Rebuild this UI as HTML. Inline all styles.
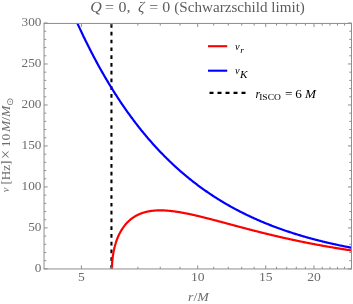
<!DOCTYPE html><html><head><meta charset="utf-8"><style>html,body{margin:0;padding:0;background:#fff;overflow:hidden}svg{display:block;will-change:transform}text{font-family:"Liberation Serif",serif}</style></head><body>
<svg width="353" height="304" viewBox="0 0 353 304">
<rect width="353" height="304" fill="#fff"/>
<defs><clipPath id="c"><rect x="44.05" y="23.05" width="307.95" height="245.90"/></clipPath></defs>
<g clip-path="url(#c)" fill="none" stroke-linejoin="round">
<line x1="111.45" y1="24.10" x2="111.45" y2="268.90" stroke="#000" stroke-width="2.1" stroke-dasharray="3.7 4.074"/>
<path d="M75.56 19.26 L76.25 20.81 L76.95 22.34 L77.64 23.86 L78.33 25.38 L79.03 26.88 L79.72 28.37 L80.41 29.86 L81.11 31.34 L81.80 32.80 L82.49 34.26 L83.18 35.71 L83.88 37.15 L84.57 38.58 L85.26 40.01 L85.96 41.42 L86.65 42.83 L87.34 44.22 L88.04 45.61 L88.73 46.99 L89.42 48.36 L90.11 49.72 L90.81 51.08 L91.50 52.42 L92.19 53.76 L92.89 55.09 L93.58 56.41 L94.27 57.72 L94.97 59.03 L95.66 60.32 L96.35 61.61 L97.04 62.89 L97.74 64.16 L98.43 65.43 L99.12 66.68 L99.82 67.93 L100.51 69.17 L101.20 70.41 L101.90 71.63 L102.59 72.85 L103.28 74.06 L103.97 75.27 L104.67 76.46 L105.36 77.65 L106.05 78.83 L106.75 80.01 L107.44 81.17 L108.13 82.33 L108.83 83.49 L109.52 84.63 L110.21 85.77 L110.90 86.90 L111.60 88.03 L112.29 89.14 L112.98 90.25 L113.68 91.36 L114.37 92.45 L115.06 93.54 L115.76 94.63 L116.45 95.70 L117.14 96.77 L117.83 97.84 L118.53 98.89 L119.22 99.94 L119.91 100.99 L120.61 102.02 L121.30 103.05 L121.99 104.08 L122.69 105.10 L123.38 106.11 L124.07 107.11 L124.76 108.11 L125.46 109.11 L126.15 110.09 L126.84 111.07 L127.54 112.05 L128.23 113.02 L128.92 113.98 L129.62 114.94 L130.31 115.89 L131.00 116.83 L131.69 117.77 L132.39 118.71 L133.08 119.63 L133.77 120.56 L134.47 121.47 L135.16 122.38 L135.85 123.29 L136.55 124.19 L137.24 125.08 L137.93 125.97 L138.62 126.85 L139.32 127.73 L140.01 128.60 L140.70 129.47 L141.40 130.33 L142.09 131.19 L142.78 132.04 L143.48 132.88 L144.17 133.72 L144.86 134.56 L145.55 135.39 L146.25 136.21 L146.94 137.03 L147.63 137.85 L148.33 138.66 L149.02 139.46 L149.71 140.26 L150.41 141.05 L151.10 141.84 L151.79 142.63 L152.48 143.41 L153.18 144.18 L153.87 144.95 L154.56 145.72 L155.26 146.48 L155.95 147.24 L156.64 147.99 L157.34 148.73 L158.03 149.48 L158.72 150.21 L159.41 150.95 L160.11 151.68 L160.80 152.40 L161.49 153.12 L162.19 153.84 L162.88 154.55 L163.57 155.25 L164.27 155.95 L164.96 156.65 L165.65 157.35 L166.34 158.03 L167.04 158.72 L167.73 159.40 L168.42 160.08 L169.12 160.75 L169.81 161.42 L170.50 162.08 L171.20 162.74 L171.89 163.40 L172.58 164.05 L173.27 164.70 L173.97 165.34 L174.66 165.98 L175.35 166.61 L176.05 167.25 L176.74 167.87 L177.43 168.50 L178.13 169.12 L178.82 169.73 L179.51 170.35 L180.20 170.96 L180.90 171.56 L181.59 172.16 L182.28 172.76 L182.98 173.35 L183.67 173.94 L184.36 174.53 L185.06 175.11 L185.75 175.69 L186.44 176.27 L187.13 176.84 L187.83 177.41 L188.52 177.97 L189.21 178.54 L189.91 179.09 L190.60 179.65 L191.29 180.20 L191.99 180.75 L192.68 181.29 L193.37 181.83 L194.06 182.37 L194.76 182.91 L195.45 183.44 L196.14 183.96 L196.84 184.49 L197.53 185.01 L198.22 185.53 L198.92 186.04 L199.61 186.56 L200.30 187.06 L200.99 187.57 L201.69 188.07 L202.38 188.57 L203.07 189.07 L203.77 189.56 L204.46 190.05 L205.15 190.54 L205.85 191.02 L206.54 191.50 L207.23 191.98 L207.92 192.46 L208.62 192.93 L209.31 193.40 L210.00 193.86 L210.70 194.33 L211.39 194.79 L212.08 195.25 L212.78 195.70 L213.47 196.15 L214.16 196.60 L214.85 197.05 L215.55 197.49 L216.24 197.93 L216.93 198.37 L217.63 198.81 L218.32 199.24 L219.01 199.67 L219.71 200.10 L220.40 200.52 L221.09 200.95 L221.78 201.37 L222.48 201.78 L223.17 202.20 L223.86 202.61 L224.56 203.02 L225.25 203.43 L225.94 203.83 L226.64 204.23 L227.33 204.63 L228.02 205.03 L228.71 205.42 L229.41 205.82 L230.10 206.21 L230.79 206.59 L231.49 206.98 L232.18 207.36 L232.87 207.74 L233.57 208.12 L234.26 208.49 L234.95 208.87 L235.64 209.24 L236.34 209.61 L237.03 209.97 L237.72 210.34 L238.42 210.70 L239.11 211.06 L239.80 211.41 L240.50 211.77 L241.19 212.12 L241.88 212.47 L242.57 212.82 L243.27 213.17 L243.96 213.51 L244.65 213.85 L245.35 214.19 L246.04 214.53 L246.73 214.87 L247.43 215.20 L248.12 215.53 L248.81 215.86 L249.50 216.19 L250.20 216.52 L250.89 216.84 L251.58 217.16 L252.28 217.48 L252.97 217.80 L253.66 218.11 L254.36 218.43 L255.05 218.74 L255.74 219.05 L256.43 219.36 L257.13 219.66 L257.82 219.97 L258.51 220.27 L259.21 220.57 L259.90 220.87 L260.59 221.17 L261.29 221.46 L261.98 221.75 L262.67 222.04 L263.36 222.33 L264.06 222.62 L264.75 222.91 L265.44 223.19 L266.14 223.47 L266.83 223.75 L267.52 224.03 L268.22 224.31 L268.91 224.59 L269.60 224.86 L270.29 225.13 L270.99 225.40 L271.68 225.67 L272.37 225.94 L273.07 226.20 L273.76 226.47 L274.45 226.73 L275.15 226.99 L275.84 227.25 L276.53 227.51 L277.22 227.76 L277.92 228.02 L278.61 228.27 L279.30 228.52 L280.00 228.77 L280.69 229.02 L281.38 229.26 L282.08 229.51 L282.77 229.75 L283.46 229.99 L284.15 230.23 L284.85 230.47 L285.54 230.71 L286.23 230.95 L286.93 231.18 L287.62 231.41 L288.31 231.64 L289.01 231.87 L289.70 232.10 L290.39 232.33 L291.08 232.56 L291.78 232.78 L292.47 233.00 L293.16 233.23 L293.86 233.45 L294.55 233.66 L295.24 233.88 L295.94 234.10 L296.63 234.31 L297.32 234.53 L298.01 234.74 L298.71 234.95 L299.40 235.16 L300.09 235.37 L300.79 235.58 L301.48 235.78 L302.17 235.99 L302.87 236.19 L303.56 236.39 L304.25 236.59 L304.94 236.79 L305.64 236.99 L306.33 237.19 L307.02 237.38 L307.72 237.58 L308.41 237.77 L309.10 237.96 L309.80 238.15 L310.49 238.34 L311.18 238.53 L311.87 238.72 L312.57 238.91 L313.26 239.09 L313.95 239.28 L314.65 239.46 L315.34 239.64 L316.03 239.82 L316.73 240.00 L317.42 240.18 L318.11 240.36 L318.80 240.53 L319.50 240.71 L320.19 240.88 L320.88 241.06 L321.58 241.23 L322.27 241.40 L322.96 241.57 L323.66 241.74 L324.35 241.91 L325.04 242.07 L325.73 242.24 L326.43 242.40 L327.12 242.57 L327.81 242.73 L328.51 242.89 L329.20 243.05 L329.89 243.21 L330.59 243.37 L331.28 243.53 L331.97 243.68 L332.66 243.84 L333.36 244.00 L334.05 244.15 L334.74 244.30 L335.44 244.45 L336.13 244.60 L336.82 244.75 L337.52 244.90 L338.21 245.05 L338.90 245.20 L339.59 245.35 L340.29 245.49 L340.98 245.64 L341.67 245.78 L342.37 245.92 L343.06 246.06 L343.75 246.21 L344.45 246.35 L345.14 246.48 L345.83 246.62 L346.52 246.76 L347.22 246.90 L347.91 247.03 L348.60 247.17 L349.30 247.30 L349.99 247.44 L350.68 247.57 L351.38 247.70 L352.07 247.83 L352.76 247.96" stroke="#0000ff" stroke-width="2.2"/>
<path d="M112.00 268.90 L112.00 268.54 L112.00 268.18 L112.01 267.82 L112.01 267.46 L112.02 267.10 L112.02 266.74 L112.03 266.38 L112.04 266.02 L112.05 265.66 L112.07 265.30 L112.08 264.95 L112.10 264.59 L112.11 264.23 L112.13 263.87 L112.15 263.51 L112.17 263.15 L112.19 262.80 L112.22 262.44 L112.24 262.08 L112.27 261.72 L112.29 261.37 L112.32 261.01 L112.35 260.65 L112.39 260.30 L112.42 259.94 L112.45 259.59 L112.49 259.23 L112.52 258.88 L112.56 258.53 L112.60 258.17 L112.64 257.82 L112.68 257.47 L112.73 257.12 L112.77 256.76 L112.82 256.41 L112.87 256.06 L112.92 255.71 L112.97 255.36 L113.02 255.01 L113.07 254.67 L113.12 254.32 L113.18 253.97 L113.24 253.63 L113.29 253.28 L113.35 252.93 L113.41 252.59 L113.48 252.25 L113.54 251.90 L113.61 251.56 L113.67 251.22 L113.74 250.88 L113.81 250.54 L113.88 250.20 L113.95 249.86 L114.02 249.52 L114.10 249.19 L114.17 248.85 L114.25 248.51 L114.33 248.18 L114.41 247.85 L114.49 247.51 L114.57 247.18 L114.65 246.85 L114.74 246.52 L114.83 246.19 L114.91 245.86 L115.00 245.53 L115.09 245.21 L115.18 244.88 L115.28 244.56 L115.37 244.23 L115.47 243.91 L115.56 243.59 L115.66 243.27 L115.76 242.95 L115.86 242.63 L115.97 242.32 L116.07 242.00 L116.17 241.68 L116.28 241.37 L116.39 241.06 L116.50 240.75 L116.61 240.43 L116.72 240.13 L116.83 239.82 L116.95 239.51 L117.06 239.20 L117.18 238.90 L117.30 238.60 L117.42 238.29 L117.54 237.99 L117.66 237.69 L117.78 237.39 L117.91 237.10 L118.04 236.80 L118.16 236.51 L118.29 236.21 L118.42 235.92 L118.55 235.63 L118.69 235.34 L118.82 235.05 L118.96 234.77 L119.09 234.48 L119.23 234.20 L119.37 233.91 L119.51 233.63 L119.66 233.35 L119.80 233.07 L119.95 232.80 L120.09 232.52 L120.24 232.25 L120.39 231.97 L120.54 231.70 L120.69 231.43 L120.84 231.16 L121.00 230.90 L121.15 230.63 L121.31 230.37 L121.47 230.11 L121.63 229.84 L121.79 229.58 L121.95 229.33 L122.12 229.07 L122.28 228.82 L122.45 228.56 L122.62 228.31 L122.79 228.06 L122.96 227.81 L123.13 227.57 L123.30 227.32 L123.48 227.08 L123.65 226.83 L123.83 226.59 L124.01 226.35 L124.19 226.12 L124.37 225.88 L124.55 225.65 L124.74 225.42 L124.92 225.18 L125.11 224.96 L125.30 224.73 L125.49 224.50 L125.68 224.28 L125.87 224.06 L126.06 223.84 L126.26 223.62 L126.45 223.40 L126.65 223.18 L126.85 222.97 L127.05 222.76 L127.25 222.55 L127.45 222.34 L127.66 222.13 L127.86 221.93 L128.07 221.72 L128.28 221.52 L128.48 221.32 L128.70 221.12 L128.91 220.93 L129.12 220.73 L129.34 220.54 L129.55 220.35 L129.77 220.16 L129.99 219.97 L130.21 219.79 L130.43 219.60 L130.65 219.42 L130.88 219.24 L131.10 219.06 L131.33 218.88 L131.56 218.71 L131.79 218.54 L132.02 218.36 L132.25 218.19 L132.48 218.03 L132.72 217.86 L132.95 217.70 L133.19 217.53 L133.43 217.37 L133.67 217.22 L133.91 217.06 L134.15 216.90 L134.40 216.75 L134.64 216.60 L134.89 216.45 L135.14 216.30 L135.39 216.16 L135.64 216.01 L135.89 215.87 L136.14 215.73 L136.40 215.59 L136.65 215.45 L136.91 215.32 L137.17 215.19 L137.43 215.06 L137.69 214.93 L137.95 214.80 L138.22 214.67 L138.48 214.55 L138.75 214.43 L139.02 214.31 L139.29 214.19 L139.56 214.07 L139.83 213.96 L140.11 213.85 L140.38 213.74 L140.66 213.63 L140.93 213.52 L141.21 213.41 L141.49 213.31 L141.77 213.21 L142.06 213.11 L142.34 213.01 L142.63 212.92 L142.91 212.82 L143.20 212.73 L143.49 212.64 L143.78 212.55 L144.08 212.46 L144.37 212.38 L144.66 212.29 L144.96 212.21 L145.26 212.13 L145.56 212.05 L145.86 211.98 L146.16 211.90 L146.46 211.83 L146.77 211.76 L147.07 211.69 L147.38 211.63 L147.69 211.56 L148.00 211.50 L148.31 211.44 L148.62 211.38 L148.93 211.32 L149.25 211.26 L149.56 211.21 L149.88 211.15 L150.20 211.10 L150.52 211.05 L150.84 211.01 L151.17 210.96 L151.49 210.92 L151.82 210.87 L152.14 210.83 L152.47 210.79 L152.80 210.76 L153.13 210.72 L153.46 210.69 L153.80 210.66 L154.13 210.63 L154.47 210.60 L154.81 210.57 L155.15 210.55 L155.49 210.52 L155.83 210.50 L156.17 210.48 L156.52 210.46 L156.86 210.45 L157.21 210.43 L157.56 210.42 L157.91 210.41 L158.26 210.40 L158.61 210.39 L158.96 210.38 L159.32 210.38 L159.68 210.37 L160.03 210.37 L160.39 210.37 L160.75 210.37 L161.12 210.37 L161.48 210.38 L161.84 210.39 L162.21 210.39 L162.58 210.40 L162.94 210.41 L163.31 210.43 L163.69 210.44 L164.06 210.46 L164.43 210.47 L164.81 210.49 L165.18 210.51 L165.56 210.53 L165.94 210.56 L166.32 210.58 L166.70 210.61 L167.09 210.64 L167.47 210.66 L167.86 210.70 L168.24 210.73 L168.63 210.76 L169.02 210.80 L169.41 210.83 L169.81 210.87 L170.20 210.91 L170.60 210.95 L170.99 210.99 L171.39 211.04 L171.79 211.08 L172.19 211.13 L172.59 211.18 L173.00 211.23 L173.40 211.28 L173.81 211.33 L174.21 211.38 L174.62 211.44 L175.03 211.49 L175.44 211.55 L175.86 211.61 L176.27 211.67 L176.69 211.73 L177.10 211.79 L177.52 211.86 L177.94 211.92 L178.36 211.99 L178.78 212.06 L179.20 212.12 L179.63 212.19 L180.06 212.27 L180.48 212.34 L180.91 212.41 L181.34 212.49 L181.77 212.56 L182.21 212.64 L182.64 212.72 L183.08 212.80 L183.51 212.88 L183.95 212.96 L184.39 213.05 L184.83 213.13 L185.27 213.22 L185.72 213.30 L186.16 213.39 L186.61 213.48 L187.05 213.57 L187.50 213.66 L187.95 213.76 L188.40 213.85 L188.86 213.94 L189.31 214.04 L189.77 214.14 L190.22 214.23 L190.68 214.33 L191.14 214.43 L191.60 214.53 L192.06 214.63 L192.53 214.74 L192.99 214.84 L193.46 214.94 L193.93 215.05 L194.39 215.16 L194.86 215.26 L195.34 215.37 L195.81 215.48 L196.28 215.59 L196.76 215.70 L197.24 215.82 L197.71 215.93 L198.19 216.04 L198.67 216.16 L199.16 216.27 L199.64 216.39 L200.12 216.51 L200.61 216.62 L201.10 216.74 L201.59 216.86 L202.08 216.98 L202.57 217.10 L203.06 217.23 L203.56 217.35 L204.05 217.47 L204.55 217.60 L205.05 217.72 L205.55 217.85 L206.05 217.98 L206.55 218.10 L207.05 218.23 L207.56 218.36 L208.06 218.49 L208.57 218.62 L209.08 218.75 L209.59 218.88 L210.10 219.02 L210.62 219.15 L211.13 219.28 L211.65 219.42 L212.16 219.55 L212.68 219.69 L213.20 219.82 L213.72 219.96 L214.24 220.10 L214.77 220.23 L215.29 220.37 L215.82 220.51 L216.35 220.65 L216.88 220.79 L217.41 220.93 L217.94 221.07 L218.47 221.22 L219.00 221.36 L219.54 221.50 L220.08 221.64 L220.62 221.79 L221.16 221.93 L221.70 222.08 L222.24 222.22 L222.78 222.37 L223.33 222.51 L223.87 222.66 L224.42 222.81 L224.97 222.95 L225.52 223.10 L226.07 223.25 L226.63 223.40 L227.18 223.55 L227.74 223.70 L228.29 223.85 L228.85 224.00 L229.41 224.15 L229.97 224.30 L230.54 224.45 L231.10 224.60 L231.66 224.75 L232.23 224.90 L232.80 225.05 L233.37 225.21 L233.94 225.36 L234.51 225.51 L235.08 225.67 L235.66 225.82 L236.23 225.97 L236.81 226.13 L237.39 226.28 L237.97 226.44 L238.55 226.59 L239.13 226.75 L239.72 226.90 L240.30 227.06 L240.89 227.21 L241.48 227.37 L242.07 227.53 L242.66 227.68 L243.25 227.84 L243.84 227.99 L244.44 228.15 L245.03 228.31 L245.63 228.46 L246.23 228.62 L246.83 228.78 L247.43 228.94 L248.03 229.09 L248.63 229.25 L249.24 229.41 L249.85 229.57 L250.45 229.72 L251.06 229.88 L251.67 230.04 L252.29 230.20 L252.90 230.36 L253.51 230.51 L254.13 230.67 L254.75 230.83 L255.37 230.99 L255.99 231.15 L256.61 231.30 L257.23 231.46 L257.85 231.62 L258.48 231.78 L259.11 231.94 L259.73 232.09 L260.36 232.25 L260.99 232.41 L261.63 232.57 L262.26 232.73 L262.89 232.88 L263.53 233.04 L264.17 233.20 L264.81 233.36 L265.45 233.51 L266.09 233.67 L266.73 233.83 L267.37 233.99 L268.02 234.14 L268.67 234.30 L269.31 234.46 L269.96 234.62 L270.61 234.77 L271.27 234.93 L271.92 235.08 L272.57 235.24 L273.23 235.40 L273.89 235.55 L274.55 235.71 L275.21 235.87 L275.87 236.02 L276.53 236.18 L277.19 236.33 L277.86 236.49 L278.53 236.64 L279.20 236.80 L279.86 236.95 L280.54 237.10 L281.21 237.26 L281.88 237.41 L282.56 237.57 L283.23 237.72 L283.91 237.87 L284.59 238.03 L285.27 238.18 L285.95 238.33 L286.63 238.48 L287.32 238.63 L288.00 238.79 L288.69 238.94 L289.38 239.09 L290.07 239.24 L290.76 239.39 L291.45 239.54 L292.14 239.69 L292.84 239.84 L293.53 239.99 L294.23 240.14 L294.93 240.29 L295.63 240.44 L296.33 240.58 L297.04 240.73 L297.74 240.88 L298.45 241.03 L299.15 241.17 L299.86 241.32 L300.57 241.47 L301.28 241.61 L301.99 241.76 L302.71 241.91 L303.42 242.05 L304.14 242.20 L304.86 242.34 L305.57 242.48 L306.29 242.63 L307.02 242.77 L307.74 242.91 L308.46 243.06 L309.19 243.20 L309.92 243.34 L310.64 243.48 L311.37 243.62 L312.11 243.76 L312.84 243.90 L313.57 244.04 L314.31 244.18 L315.04 244.32 L315.78 244.46 L316.52 244.60 L317.26 244.74 L318.00 244.88 L318.74 245.01 L319.49 245.15 L320.23 245.29 L320.98 245.42 L321.73 245.56 L322.48 245.69 L323.23 245.83 L323.98 245.96 L324.74 246.10 L325.49 246.23 L326.25 246.36 L327.01 246.50 L327.76 246.63 L328.53 246.76 L329.29 246.89 L330.05 247.02 L330.81 247.15 L331.58 247.28 L332.35 247.41 L333.12 247.54 L333.89 247.67 L334.66 247.80 L335.43 247.93 L336.20 248.05 L336.98 248.18 L337.75 248.31 L338.53 248.43 L339.31 248.56 L340.09 248.68 L340.87 248.81 L341.66 248.93 L342.44 249.06 L343.23 249.18 L344.01 249.30 L344.80 249.43 L345.59 249.55 L346.38 249.67 L347.18 249.79 L347.97 249.91 L348.77 250.03 L349.56 250.15 L350.36 250.27 L351.16 250.39 L351.96 250.51 L352.76 250.62" stroke="#ff0000" stroke-width="2.2"/>
</g>
<g stroke="#8e8e8e" stroke-width="1" fill="none">
<line x1="43.55" y1="23.45" x2="352.00" y2="23.45"/>
<line x1="43.55" y1="268.95" x2="352.00" y2="268.95"/>
<line x1="44.05" y1="23.45" x2="44.05" y2="268.95"/>
<line x1="351.50" y1="23.45" x2="351.50" y2="268.95"/>
<line x1="44.05" y1="268.90" x2="47.65" y2="268.90"/>
<line x1="351.50" y1="268.90" x2="347.90" y2="268.90"/>
<line x1="44.05" y1="260.70" x2="46.25" y2="260.70"/>
<line x1="351.50" y1="260.70" x2="349.30" y2="260.70"/>
<line x1="44.05" y1="252.51" x2="46.25" y2="252.51"/>
<line x1="351.50" y1="252.51" x2="349.30" y2="252.51"/>
<line x1="44.05" y1="244.31" x2="46.25" y2="244.31"/>
<line x1="351.50" y1="244.31" x2="349.30" y2="244.31"/>
<line x1="44.05" y1="236.11" x2="46.25" y2="236.11"/>
<line x1="351.50" y1="236.11" x2="349.30" y2="236.11"/>
<line x1="44.05" y1="227.92" x2="47.65" y2="227.92"/>
<line x1="351.50" y1="227.92" x2="347.90" y2="227.92"/>
<line x1="44.05" y1="219.72" x2="46.25" y2="219.72"/>
<line x1="351.50" y1="219.72" x2="349.30" y2="219.72"/>
<line x1="44.05" y1="211.52" x2="46.25" y2="211.52"/>
<line x1="351.50" y1="211.52" x2="349.30" y2="211.52"/>
<line x1="44.05" y1="203.33" x2="46.25" y2="203.33"/>
<line x1="351.50" y1="203.33" x2="349.30" y2="203.33"/>
<line x1="44.05" y1="195.13" x2="46.25" y2="195.13"/>
<line x1="351.50" y1="195.13" x2="349.30" y2="195.13"/>
<line x1="44.05" y1="186.93" x2="47.65" y2="186.93"/>
<line x1="351.50" y1="186.93" x2="347.90" y2="186.93"/>
<line x1="44.05" y1="178.74" x2="46.25" y2="178.74"/>
<line x1="351.50" y1="178.74" x2="349.30" y2="178.74"/>
<line x1="44.05" y1="170.54" x2="46.25" y2="170.54"/>
<line x1="351.50" y1="170.54" x2="349.30" y2="170.54"/>
<line x1="44.05" y1="162.34" x2="46.25" y2="162.34"/>
<line x1="351.50" y1="162.34" x2="349.30" y2="162.34"/>
<line x1="44.05" y1="154.15" x2="46.25" y2="154.15"/>
<line x1="351.50" y1="154.15" x2="349.30" y2="154.15"/>
<line x1="44.05" y1="145.95" x2="47.65" y2="145.95"/>
<line x1="351.50" y1="145.95" x2="347.90" y2="145.95"/>
<line x1="44.05" y1="137.75" x2="46.25" y2="137.75"/>
<line x1="351.50" y1="137.75" x2="349.30" y2="137.75"/>
<line x1="44.05" y1="129.56" x2="46.25" y2="129.56"/>
<line x1="351.50" y1="129.56" x2="349.30" y2="129.56"/>
<line x1="44.05" y1="121.36" x2="46.25" y2="121.36"/>
<line x1="351.50" y1="121.36" x2="349.30" y2="121.36"/>
<line x1="44.05" y1="113.16" x2="46.25" y2="113.16"/>
<line x1="351.50" y1="113.16" x2="349.30" y2="113.16"/>
<line x1="44.05" y1="104.97" x2="47.65" y2="104.97"/>
<line x1="351.50" y1="104.97" x2="347.90" y2="104.97"/>
<line x1="44.05" y1="96.77" x2="46.25" y2="96.77"/>
<line x1="351.50" y1="96.77" x2="349.30" y2="96.77"/>
<line x1="44.05" y1="88.57" x2="46.25" y2="88.57"/>
<line x1="351.50" y1="88.57" x2="349.30" y2="88.57"/>
<line x1="44.05" y1="80.38" x2="46.25" y2="80.38"/>
<line x1="351.50" y1="80.38" x2="349.30" y2="80.38"/>
<line x1="44.05" y1="72.18" x2="46.25" y2="72.18"/>
<line x1="351.50" y1="72.18" x2="349.30" y2="72.18"/>
<line x1="44.05" y1="63.98" x2="47.65" y2="63.98"/>
<line x1="351.50" y1="63.98" x2="347.90" y2="63.98"/>
<line x1="44.05" y1="55.79" x2="46.25" y2="55.79"/>
<line x1="351.50" y1="55.79" x2="349.30" y2="55.79"/>
<line x1="44.05" y1="47.59" x2="46.25" y2="47.59"/>
<line x1="351.50" y1="47.59" x2="349.30" y2="47.59"/>
<line x1="44.05" y1="39.39" x2="46.25" y2="39.39"/>
<line x1="351.50" y1="39.39" x2="349.30" y2="39.39"/>
<line x1="44.05" y1="31.20" x2="46.25" y2="31.20"/>
<line x1="351.50" y1="31.20" x2="349.30" y2="31.20"/>
<line x1="44.05" y1="23.00" x2="47.65" y2="23.00"/>
<line x1="351.50" y1="23.00" x2="347.90" y2="23.00"/>
<line x1="81.41" y1="268.95" x2="81.41" y2="265.35"/>
<line x1="81.41" y1="23.45" x2="81.41" y2="27.05"/>
<line x1="112.00" y1="268.95" x2="112.00" y2="266.75"/>
<line x1="112.00" y1="23.45" x2="112.00" y2="25.65"/>
<line x1="137.86" y1="268.95" x2="137.86" y2="266.75"/>
<line x1="137.86" y1="23.45" x2="137.86" y2="25.65"/>
<line x1="160.26" y1="268.95" x2="160.26" y2="266.75"/>
<line x1="160.26" y1="23.45" x2="160.26" y2="25.65"/>
<line x1="180.02" y1="268.95" x2="180.02" y2="266.75"/>
<line x1="180.02" y1="23.45" x2="180.02" y2="25.65"/>
<line x1="197.70" y1="268.95" x2="197.70" y2="265.35"/>
<line x1="197.70" y1="23.45" x2="197.70" y2="27.05"/>
<line x1="213.69" y1="268.95" x2="213.69" y2="266.75"/>
<line x1="213.69" y1="23.45" x2="213.69" y2="25.65"/>
<line x1="228.29" y1="268.95" x2="228.29" y2="266.75"/>
<line x1="228.29" y1="23.45" x2="228.29" y2="25.65"/>
<line x1="241.72" y1="268.95" x2="241.72" y2="266.75"/>
<line x1="241.72" y1="23.45" x2="241.72" y2="25.65"/>
<line x1="254.15" y1="268.95" x2="254.15" y2="266.75"/>
<line x1="254.15" y1="23.45" x2="254.15" y2="25.65"/>
<line x1="265.72" y1="268.95" x2="265.72" y2="265.35"/>
<line x1="265.72" y1="23.45" x2="265.72" y2="27.05"/>
<line x1="276.55" y1="268.95" x2="276.55" y2="266.75"/>
<line x1="276.55" y1="23.45" x2="276.55" y2="25.65"/>
<line x1="286.72" y1="268.95" x2="286.72" y2="266.75"/>
<line x1="286.72" y1="23.45" x2="286.72" y2="25.65"/>
<line x1="296.31" y1="268.95" x2="296.31" y2="266.75"/>
<line x1="296.31" y1="23.45" x2="296.31" y2="25.65"/>
<line x1="305.38" y1="268.95" x2="305.38" y2="266.75"/>
<line x1="305.38" y1="23.45" x2="305.38" y2="25.65"/>
<line x1="313.99" y1="268.95" x2="313.99" y2="265.35"/>
<line x1="313.99" y1="23.45" x2="313.99" y2="27.05"/>
<line x1="322.17" y1="268.95" x2="322.17" y2="266.75"/>
<line x1="322.17" y1="23.45" x2="322.17" y2="25.65"/>
<line x1="329.98" y1="268.95" x2="329.98" y2="266.75"/>
<line x1="329.98" y1="23.45" x2="329.98" y2="25.65"/>
<line x1="337.44" y1="268.95" x2="337.44" y2="266.75"/>
<line x1="337.44" y1="23.45" x2="337.44" y2="25.65"/>
<line x1="344.58" y1="268.95" x2="344.58" y2="266.75"/>
<line x1="344.58" y1="23.45" x2="344.58" y2="25.65"/>
<line x1="351.42" y1="268.95" x2="351.42" y2="266.75"/>
<line x1="351.42" y1="23.45" x2="351.42" y2="25.65"/>
</g>
<text transform="translate(41.40,272.30) scale(1.070,1)" font-size="12.4" fill="#6c6c6c" text-anchor="end">0</text>
<text transform="translate(41.40,231.32) scale(1.070,1)" font-size="12.4" fill="#6c6c6c" text-anchor="end">50</text>
<text transform="translate(41.40,190.33) scale(1.070,1)" font-size="12.4" fill="#6c6c6c" text-anchor="end">100</text>
<text transform="translate(41.40,149.35) scale(1.070,1)" font-size="12.4" fill="#6c6c6c" text-anchor="end">150</text>
<text transform="translate(41.40,108.37) scale(1.070,1)" font-size="12.4" fill="#6c6c6c" text-anchor="end">200</text>
<text transform="translate(41.40,67.38) scale(1.070,1)" font-size="12.4" fill="#6c6c6c" text-anchor="end">250</text>
<text transform="translate(41.40,26.40) scale(1.070,1)" font-size="12.4" fill="#6c6c6c" text-anchor="end">300</text>
<text transform="translate(81.41,281.40) scale(1.100,1)" font-size="12.4" fill="#6c6c6c" text-anchor="middle">5</text>
<text transform="translate(197.70,281.40) scale(1.100,1)" font-size="12.4" fill="#6c6c6c" text-anchor="middle">10</text>
<text transform="translate(265.72,281.40) scale(1.100,1)" font-size="12.4" fill="#6c6c6c" text-anchor="middle">15</text>
<text transform="translate(313.99,281.40) scale(1.100,1)" font-size="12.4" fill="#6c6c6c" text-anchor="middle">20</text>
<text transform="translate(198.40,301.00) scale(1.100,1)" font-size="12.6" fill="#6c6c6c" text-anchor="middle"><tspan font-style="italic">r</tspan>/<tspan font-style="italic">M</tspan></text>
<text transform="translate(8.70,192.30) rotate(-90) scale(1.000,1)" font-size="10.6" fill="#6c6c6c"><tspan font-style="italic">ν</tspan></text>
<text transform="translate(10.30,184.60) rotate(-90) scale(1.045,1)" font-size="12.5" fill="#6c6c6c">[Hz]</text>
<text transform="translate(11.40,159.00) rotate(-90) scale(1.000,1)" font-size="16" fill="#6c6c6c">×</text>
<text transform="translate(10.30,147.25) rotate(-90) scale(1.100,1)" font-size="12.5" fill="#6c6c6c">10</text>
<text transform="translate(10.30,132.10) rotate(-90) scale(1.085,1)" font-size="12.5" fill="#6c6c6c"><tspan font-style="italic">M</tspan>/<tspan font-style="italic">M</tspan></text>
<text transform="translate(12.90,106.10) rotate(-90) scale(1.100,1)" font-size="8.5" fill="#6c6c6c">⊙</text>
<text transform="translate(90.30,11.8) scale(1.100,1)" font-size="14.5" fill="#5c5c5c" font-style="italic">Q</text>
<text transform="translate(105.00,11.8) scale(1.100,1)" font-size="14.5" fill="#5c5c5c">=</text>
<text transform="translate(118.60,11.8) scale(1.100,1)" font-size="14.5" fill="#5c5c5c">0,</text>
<text transform="translate(138.00,11.8) scale(1.100,1)" font-size="14.5" fill="#5c5c5c" font-style="italic">ζ</text>
<text transform="translate(149.20,11.8) scale(1.100,1)" font-size="14.5" fill="#5c5c5c">=</text>
<text transform="translate(162.30,11.8) scale(1.100,1)" font-size="14.5" fill="#5c5c5c">0</text>
<text transform="translate(174.3,11.8)" font-size="14.5" fill="#5c5c5c" textLength="130.6" lengthAdjust="spacingAndGlyphs">(Schwarzschild limit)</text>
<line x1="208" y1="46.2" x2="227.2" y2="46.2" stroke="#ff0000" stroke-width="2.1"/>
<line x1="208" y1="70.7" x2="227.2" y2="70.7" stroke="#0000ff" stroke-width="2.1"/>
<line x1="209.5" y1="92.9" x2="246" y2="92.9" stroke="#000" stroke-width="2.1" stroke-dasharray="4 4"/>
<text transform="translate(235.00,50.00) scale(1.000,1)" font-size="10.4" fill="#000" text-anchor="start"><tspan font-style="italic">ν</tspan></text>
<text transform="translate(240.20,52.80) scale(1.100,1)" font-size="8.7" fill="#000" text-anchor="start"><tspan font-style="italic">r</tspan></text>
<text transform="translate(235.00,73.90) scale(1.000,1)" font-size="10.4" fill="#000" text-anchor="start"><tspan font-style="italic">ν</tspan></text>
<text transform="translate(239.90,78.00) scale(1.200,1)" font-size="9.3" fill="#000" text-anchor="start"><tspan font-style="italic">K</tspan></text>
<text transform="translate(255.60,97.60) scale(1.000,1)" font-size="12" fill="#000" text-anchor="start"><tspan font-style="italic">r</tspan></text>
<text transform="translate(259.20,99.90) scale(1.120,1)" font-size="8.5" fill="#000" text-anchor="start">ISCO</text>
<text transform="translate(285.00,97.60) scale(1.100,1)" font-size="12" fill="#000" text-anchor="start">=</text>
<text transform="translate(295.20,97.60) scale(1.100,1)" font-size="12" fill="#000" text-anchor="start">6</text>
<text transform="translate(305.00,97.60) scale(1.100,1)" font-size="12" fill="#000" text-anchor="start"><tspan font-style="italic">M</tspan></text>
</svg></body></html>
